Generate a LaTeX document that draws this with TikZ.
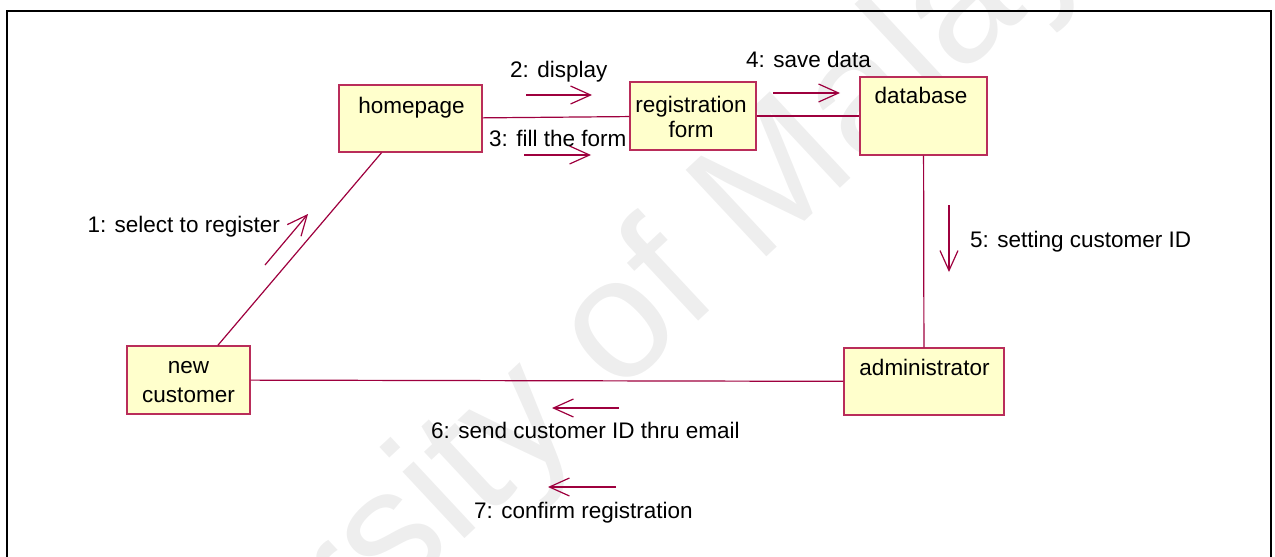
\documentclass[tikz,border=0pt]{standalone}
\usepackage{fontspec}
\setmainfont{Liberation Sans}
\usetikzlibrary{arrows.meta}
\definecolor{umlline}{RGB}{158,0,62}
\definecolor{umlborder}{RGB}{185,45,90}
\definecolor{umlfill}{RGB}{255,255,204}
\definecolor{wmark}{RGB}{238,238,238}
\tikzset{
  objbox/.style={draw=umlborder, fill=umlfill, line width=1.3pt, rectangle, inner sep=0pt},
  objtext/.style={inner sep=0pt, font=\fontsize{22.5}{28}\selectfont, align=center},
  msgtext/.style={inner sep=0pt, font=\fontsize{22.5}{28}\selectfont},
  link/.style={draw=umlline, line width=1.2pt},
  msg/.style={draw=umlline, line width=1.2pt, -{Straight Barb[length=20pt,width=18pt,line width=1.2pt]}},
}
\begin{document}
\begin{tikzpicture}[x=1pt,y=-1pt]
\useasboundingbox (0,0) rectangle (1275,557);
\clip (0,0) rectangle (1275,557);
% watermark
\node[wmark, inner sep=0pt, anchor=base west, rotate=43, font=\fontsize{172}{172}\selectfont] (wm) at (30,944) {University of Malaya};
% frame
\draw[line width=2.6pt, black] (7,11) rectangle (1271,620);
% objects
\node[objbox, minimum width=143pt, minimum height=67pt] (hp) at (410.5,118.5) {};
\node[objbox, minimum width=126pt, minimum height=68pt] (rf) at (693,116) {};
\node[objbox, minimum width=127pt, minimum height=78pt] (db) at (923.5,116) {};
\node[objbox, minimum width=123pt, minimum height=68pt] (nc) at (188.5,380) {};
\node[objbox, minimum width=160pt, minimum height=67pt] (ad) at (924,381.5) {};
\node[objtext, anchor=base] (hpt) at (411.5,113) {homepage};
\node[objtext, anchor=base] (rft1) at (691,112) {registration};
\node[objtext, anchor=base] (rft2) at (691,137) {form};
\node[objtext, anchor=base] (dbt) at (921,103) {database};
\node[objtext, anchor=base] (nct1) at (188.5,373) {new};
\node[objtext, anchor=base] (nct2) at (188.5,402) {customer};
\node[objtext, anchor=base] (adt) at (924.5,375) {administrator};
% links
\draw[link] (hp) -- (nc);
\draw[link] (hp) -- (rf);
\draw[link] (rf) -- (db);
\draw[link] (db) -- (ad);
\draw[link] (nc) -- (ad);
% message arrow end points
\coordinate (m1a) at (265,265); \coordinate (m1b) at (308,214);
\coordinate (m2a) at (526,95);  \coordinate (m2b) at (592,95);
\coordinate (m3a) at (524,155); \coordinate (m3b) at (591,155);
\coordinate (m4a) at (773,93);  \coordinate (m4b) at (840,93);
\coordinate (m5a) at (949,205); \coordinate (m5b) at (949,272);
\coordinate (m6a) at (619,408); \coordinate (m6b) at (552,408);
\coordinate (m7a) at (616,487); \coordinate (m7b) at (548,487);
\draw[msg] (m1a) -- (m1b);
\draw[msg] (m2a) -- (m2b);
\draw[msg] (m3a) -- (m3b);
\draw[msg] (m4a) -- (m4b);
\draw[msg] (m5a) -- (m5b);
\draw[msg] (m6a) -- (m6b);
\draw[msg] (m7a) -- (m7b);
% message labels
\node[msgtext, anchor=base east] (l1) at (280,232) {1: select to register};
\node[msgtext, anchor=base west] (l2) at (510,77) {2: display};
\node[msgtext, anchor=base west] (l3) at (489,146) {3: fill the form};
\node[msgtext, anchor=base west] (l4) at (746,67) {4: save data};
\node[msgtext, anchor=base west] (l5) at (970,247) {5: setting customer ID};
\node[msgtext, anchor=base west] (l6) at (431,438) {6: send customer ID thru email};
\node[msgtext, anchor=base west] (l7) at (474,518) {7: confirm registration};
\end{tikzpicture}
\end{document}
